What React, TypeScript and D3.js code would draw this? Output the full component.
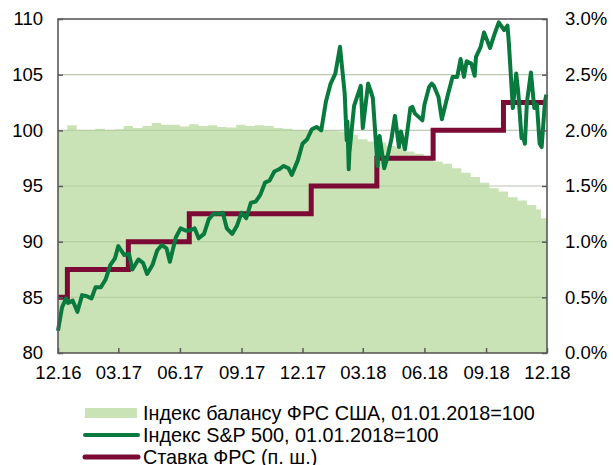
import { useRef, useEffect } from "react";
import * as d3 from "d3";

// S&P 500, 01.01.2018 = 100
const spDates = [
  "2016-12-01","2016-12-07","2016-12-13","2016-12-16","2016-12-23","2016-12-30",
  "2017-01-06","2017-01-13","2017-01-20","2017-01-26","2017-02-03","2017-02-10","2017-02-17","2017-02-24",
  "2017-03-01","2017-03-10","2017-03-17","2017-03-22","2017-03-31","2017-04-07","2017-04-13","2017-04-21",
  "2017-04-28","2017-05-05","2017-05-12","2017-05-17","2017-05-26","2017-06-02","2017-06-09","2017-06-16",
  "2017-06-23","2017-06-29","2017-07-07","2017-07-14","2017-07-21","2017-07-28","2017-08-04","2017-08-10",
  "2017-08-18","2017-08-25","2017-09-01","2017-09-08","2017-09-15","2017-09-22","2017-09-29","2017-10-06",
  "2017-10-13","2017-10-20","2017-10-27","2017-11-03","2017-11-10","2017-11-15","2017-11-24","2017-12-01",
  "2017-12-08","2017-12-15","2017-12-22","2017-12-29",
  "2018-01-05","2018-01-12","2018-01-19","2018-01-26","2018-02-02","2018-02-05","2018-02-06","2018-02-08",
  "2018-02-09","2018-02-16","2018-02-26","2018-03-01","2018-03-09","2018-03-13","2018-03-16","2018-03-23",
  "2018-03-26","2018-04-02","2018-04-06","2018-04-13","2018-04-18","2018-04-24","2018-04-27","2018-05-03",
  "2018-05-11","2018-05-14","2018-05-18","2018-05-29","2018-06-01","2018-06-08","2018-06-12","2018-06-15",
  "2018-06-22","2018-06-27","2018-07-06","2018-07-13","2018-07-20","2018-07-25","2018-07-30","2018-08-03",
  "2018-08-10","2018-08-15","2018-08-17","2018-08-24","2018-08-29","2018-09-07","2018-09-14","2018-09-20",
  "2018-09-28","2018-10-03","2018-10-05","2018-10-11","2018-10-16","2018-10-19","2018-10-24","2018-10-26",
  "2018-10-29","2018-11-01","2018-11-07","2018-11-12","2018-11-16","2018-11-20","2018-11-23","2018-11-28",
  "2018-11-30",
];
const spValues = [
  82.0, 84.1, 84.9, 84.5, 84.7, 83.7,
  85.2, 85.1, 84.9, 85.9, 85.9, 86.6, 87.9, 88.5,
  89.6, 88.8, 88.9, 87.5, 88.4, 88.1, 87.1, 87.9,
  89.2, 89.7, 89.4, 88.2, 90.4, 91.2, 91.0, 91.0,
  91.2, 90.3, 90.7, 92.0, 92.5, 92.5, 92.6, 91.2,
  90.7, 91.4, 92.6, 92.1, 93.5, 93.6, 94.2, 95.3,
  95.5, 96.3, 96.5, 96.8, 96.6, 96.0, 97.3, 98.8,
  99.2, 100.1, 100.3, 100.0,
  102.6, 104.2, 105.1, 107.5, 103.3, 99.1, 100.8, 96.5,
  98.0, 102.2, 104.0, 100.2, 104.2, 103.5, 102.9, 96.8,
  99.5, 96.6, 97.4, 99.3, 101.3, 98.5, 99.9, 98.3,
  102.0, 102.1, 101.5, 100.9, 102.3, 103.9, 104.2, 104.0,
  103.0, 101.0, 103.2, 104.8, 104.8, 106.4, 104.8, 106.2,
  106.0, 104.9, 106.6, 107.5, 108.8, 107.4, 108.7, 109.7,
  109.0, 109.4, 107.9, 102.0, 105.1, 103.5, 99.3, 99.5,
  98.8, 102.5, 105.2, 102.0, 102.3, 98.8, 98.5, 102.6,
  103.2,
];

// Fed balance sheet index, 01.01.2018 = 100 (step series)
const balDates = [
  "2016-12-01","2016-12-15","2016-12-29","2017-01-12","2017-01-26","2017-02-09","2017-02-23","2017-03-09",
  "2017-03-23","2017-04-06","2017-04-20","2017-05-04","2017-05-18","2017-06-01","2017-06-15","2017-06-29",
  "2017-07-13","2017-07-27","2017-08-10","2017-08-24","2017-09-07","2017-09-21","2017-10-05","2017-10-19",
  "2017-11-02","2017-11-16","2017-11-30","2017-12-14","2017-12-28","2018-01-11","2018-01-25","2018-02-08",
  "2018-02-22","2018-03-08","2018-03-22","2018-04-05","2018-04-19","2018-05-03","2018-05-17","2018-05-31",
  "2018-06-14","2018-06-28","2018-07-12","2018-07-26","2018-08-09","2018-08-23","2018-09-06","2018-09-20",
  "2018-10-04","2018-10-18","2018-11-01","2018-11-15","2018-11-22","2018-12-01",
];
const balValues = [
  100.0, 100.45, 100.0, 100.0, 100.15, 100.0, 100.1, 100.4,
  100.2, 100.4, 100.65, 100.5, 100.5, 100.35, 100.55, 100.4,
  100.45, 100.3, 100.25, 100.5, 100.4, 100.45, 100.4, 100.2,
  100.15, 100.0, 100.0, 100.0, 100.0, 99.95, 99.9, 99.6,
  99.2, 99.0, 98.9, 98.6, 98.5, 98.1, 97.9, 97.5,
  97.2, 97.0, 96.6, 96.2, 95.8, 95.3, 94.8, 94.5,
  94.0, 93.7, 93.3, 92.9, 92.1, 92.1,
];

// Fed funds rate (upper bound), %
const rateDates = ["2016-12-01","2016-12-15","2017-03-16","2017-06-15","2017-12-14","2018-03-22","2018-06-14","2018-09-27","2018-12-01"];
const rateValues = [0.5, 0.75, 1.0, 1.25, 1.5, 1.75, 2.0, 2.25, 2.25];

const xTickDates = ["2016-12-01","2017-03-01","2017-06-01","2017-09-01","2017-12-01","2018-03-01","2018-06-01","2018-09-01","2018-12-01"];
const leftTicks = [80, 85, 90, 95, 100, 105, 110];
const rightTicks = [0, 0.5, 1.0, 1.5, 2.0, 2.5, 3.0];
const legendLabels = [
  "Індекс балансу ФРС США, 01.01.2018=100",
  "Індекс S&P 500, 01.01.2018=100",
  "Ставка ФРС (п. ш.)",
];

const W = 613, H = 465;
const m = { left: 58, right: 547, top: 19, bottom: 353 };
const FONT = "Arial, 'Liberation Sans', sans-serif";
const C_AREA = "#c9e2b6", C_SP = "#087a3e", C_RATE = "#7b0a34", C_AXIS = "#5a5a5a";

const parse = d3.timeParse("%Y-%m-%d");

export default function App() {
  const ref = useRef<SVGSVGElement>(null);

  useEffect(() => {
    if (!ref.current) return;
    const svg = d3.select(ref.current);
    svg.selectAll("*").remove();

    const x = d3.scaleTime()
      .domain([parse("2016-12-01")!, parse("2018-12-01")!])
      .range([m.left, m.right]);
    const y = d3.scaleLinear().domain([80, 110]).range([m.bottom, m.top]);
    const y2 = d3.scaleLinear().domain([0, 3]).range([m.bottom, m.top]);

    const bal = balDates.map((d, i) => ({ d: parse(d)!, v: balValues[i] }));
    const sp = spDates.map((d, i) => ({ d: parse(d)!, v: spValues[i] }));
    const rate = rateDates.map((d, i) => ({ d: parse(d)!, v: rateValues[i] }));

    // gridlines under everything
    svg.append("g").selectAll("line")
      .data(leftTicks.slice(1, -1))
      .join("line")
      .attr("x1", m.left).attr("x2", m.right)
      .attr("y1", d => y(d)).attr("y2", d => y(d))
      .attr("stroke", "#d9d9d9").attr("stroke-width", 1.2);

    const area = d3.area<{ d: Date; v: number }>()
      .x(p => x(p.d)).y0(m.bottom).y1(p => y(p.v))
      .curve(d3.curveStepAfter);
    svg.append("path").datum(bal).attr("d", area).attr("fill", C_AREA);

    // gridlines seen through the area
    svg.append("g").selectAll("line")
      .data(leftTicks.slice(1, -1))
      .join("line")
      .attr("x1", m.left).attr("x2", m.right)
      .attr("y1", d => y(d)).attr("y2", d => y(d))
      .attr("stroke", "#8fb07a").attr("stroke-opacity", 0.35).attr("stroke-width", 1.2);

    const rateLine = d3.line<{ d: Date; v: number }>()
      .x(p => x(p.d)).y(p => y2(p.v)).curve(d3.curveStepAfter);
    svg.append("path").datum(rate).attr("d", rateLine)
      .attr("fill", "none").attr("stroke", C_RATE).attr("stroke-width", 5);

    const spLine = d3.line<{ d: Date; v: number }>()
      .x(p => x(p.d)).y(p => y(p.v)).curve(d3.curveLinear);
    svg.append("path").datum(sp).attr("d", spLine)
      .attr("fill", "none").attr("stroke", C_SP).attr("stroke-width", 4)
      .attr("stroke-linejoin", "round");

    // frame
    svg.append("rect")
      .attr("x", m.left).attr("y", m.top)
      .attr("width", m.right - m.left).attr("height", m.bottom - m.top)
      .attr("fill", "none").attr("stroke", C_AXIS).attr("stroke-width", 1.6);

    // left axis
    const gl = svg.append("g").attr("transform", `translate(${m.left},0)`)
      .call(d3.axisLeft(y).tickValues(leftTicks).tickSize(-5).tickPadding(15).tickFormat(d3.format("d")));
    gl.select(".domain").remove();
    gl.selectAll(".tick line").attr("stroke", C_AXIS).attr("stroke-width", 1.5);
    gl.selectAll("text").attr("font-family", FONT).attr("font-size", 18.5).attr("fill", "#000");

    // right axis
    const gr = svg.append("g").attr("transform", `translate(${m.right},0)`)
      .call(d3.axisRight(y2).tickValues(rightTicks).tickSize(-5).tickPadding(18)
        .tickFormat(d => d3.format(".1f")(d as number) + "%"));
    gr.select(".domain").remove();
    gr.selectAll(".tick line").attr("stroke", C_AXIS).attr("stroke-width", 1.5);
    gr.selectAll("text").attr("font-family", FONT).attr("font-size", 18.5).attr("fill", "#000");

    // bottom axis
    const gb = svg.append("g").attr("transform", `translate(0,${m.bottom})`)
      .call(d3.axisBottom(x).tickValues(xTickDates.map(d => parse(d)!)).tickSize(-5).tickPadding(13)
        .tickFormat(d => d3.timeFormat("%m.%y")(d as Date)));
    gb.select(".domain").remove();
    gb.selectAll(".tick line").attr("stroke", C_AXIS).attr("stroke-width", 1.5);
    gb.selectAll("text").attr("font-family", FONT).attr("font-size", 18.5).attr("fill", "#000");

    // legend
    const lg = svg.append("g").attr("font-family", FONT).attr("font-size", 19.8);
    const rowY = [413, 435, 457];
    lg.append("rect").attr("x", 85).attr("y", rowY[0] - 5).attr("width", 52).attr("height", 10).attr("fill", C_AREA);
    lg.append("line").attr("x1", 85).attr("x2", 138).attr("y1", rowY[1]).attr("y2", rowY[1])
      .attr("stroke", C_SP).attr("stroke-width", 4).attr("stroke-linecap", "round");
    lg.append("line").attr("x1", 85).attr("x2", 138).attr("y1", rowY[2]).attr("y2", rowY[2])
      .attr("stroke", C_RATE).attr("stroke-width", 5).attr("stroke-linecap", "round");
    lg.selectAll("text").data(legendLabels).join("text")
      .attr("x", 143).attr("y", (_, i) => rowY[i] + 7)
      .attr("fill", "#000")
      .text(d => d);
  }, []);

  return (
    <svg ref={ref} width={W} height={H}
      style={{ position: "absolute", left: 0, top: 0, background: "#fff" }} />
  );
}
